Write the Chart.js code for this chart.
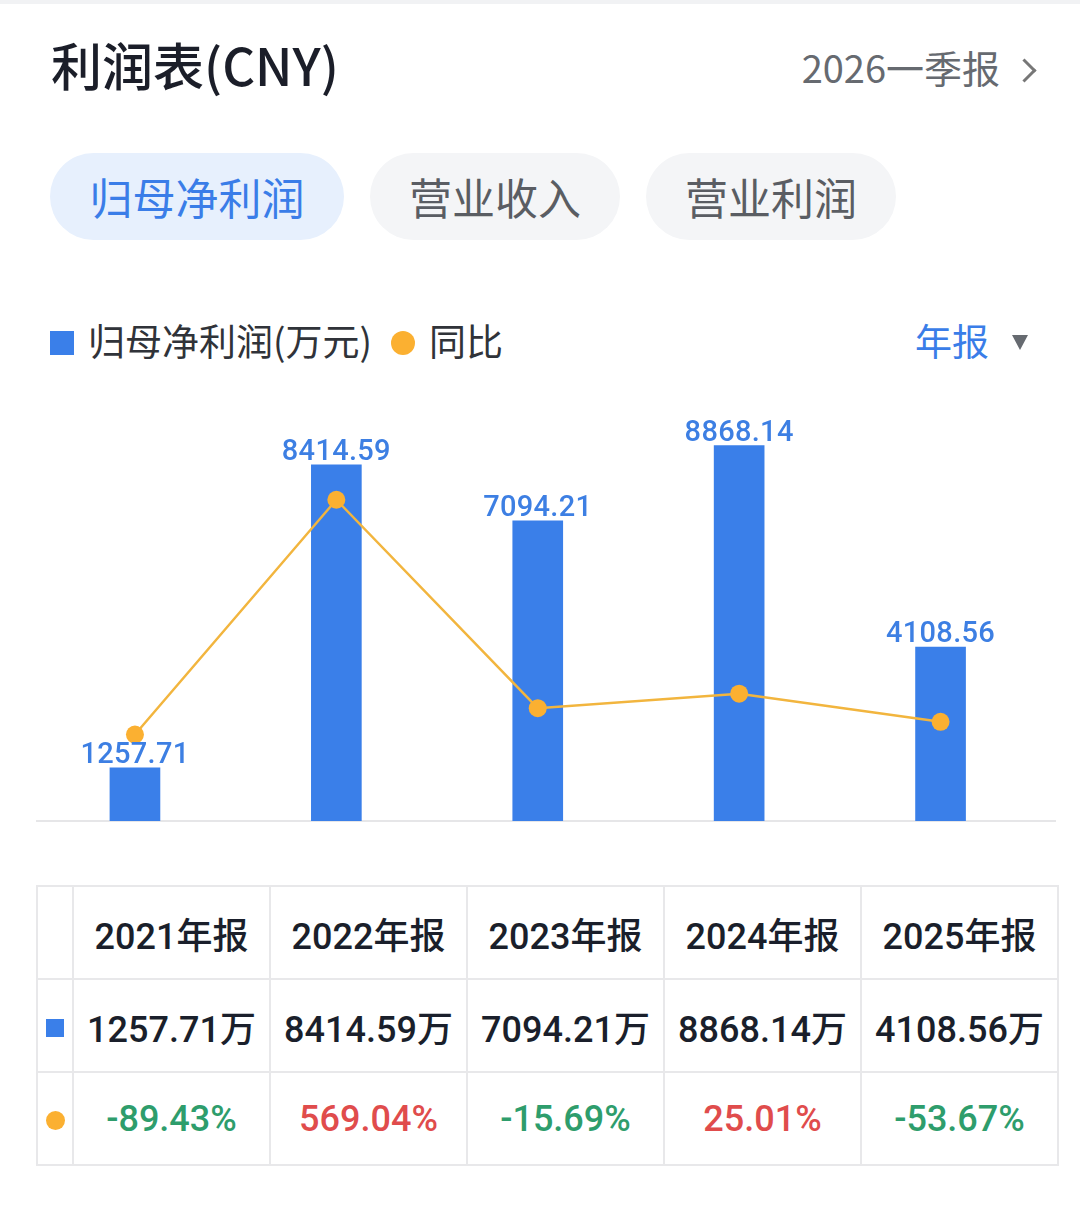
<!DOCTYPE html>
<html>
<head>
<meta charset="utf-8">
<script src="https://cdn.jsdelivr.net/npm/chart.js@4.4.1/dist/chart.umd.min.js"></script>
<style>
  html, body { margin: 0; padding: 0; background: #ffffff; }
  body { width: 1080px; height: 1208px; position: relative; overflow: hidden;
         font-family: "Roboto", "Noto Sans CJK SC", sans-serif; }
  .topband { position: absolute; left: 0; top: 0; width: 1080px; height: 4px; background: #f1f2f4; }
  .abs { position: absolute; white-space: nowrap; }
  .title { left: 51px; top: 34px; height: 60px; line-height: 60px; font-size: 51px; font-weight: 500; color: #1b1e29;
           font-family: "Noto Sans CJK SC", sans-serif; }
  .period { right: 80px; top: 41px; height: 52px; line-height: 52px; font-size: 38px; color: #666a70;
            font-family: "Noto Sans CJK SC", sans-serif; }
  .chev { left: 1016px; top: 62px; width: 14px; height: 14px; border-top: 3px solid #777; border-right: 3px solid #777;
          transform: rotate(45deg); }
  .tab { top: 153px; height: 87px; border-radius: 44px; display: flex; align-items: center; justify-content: center;
         font-size: 43px; font-family: "Noto Sans CJK SC", sans-serif; padding-bottom: 2px; box-sizing: border-box; }
  .tab.on { background: #e7f0fd; color: #3a7de8; }
  .tab.off { background: #f4f5f7; color: #5a5d63; }
  .legsq { left: 50px; top: 331px; width: 24px; height: 24px; background: #3a7fe9; }
  .legtxt { top: 315px; height: 50px; line-height: 50px; font-size: 37px; color: #303339; font-family: "Noto Sans CJK SC", sans-serif; }
  .legdot { left: 391px; top: 331px; width: 24px; height: 24px; border-radius: 50%; background: #fbb031; }
  .nb { left: 915px; top: 315px; height: 50px; line-height: 50px; font-size: 37px; color: #3a7de8; font-family: "Noto Sans CJK SC", sans-serif; }
  .tri { left: 1012px; top: 335px; width: 0; height: 0; border-left: 8px solid transparent; border-right: 8px solid transparent;
         border-top: 15px solid #666a70; }
  #chartBox { position: absolute; left: 0; top: 380px; width: 1080px; height: 450px; }
  table { position: absolute; left: 36px; top: 885px; border-collapse: collapse; }
  td { border: 2px solid #e8e8ea; text-align: center; padding: 0; height: 91px; font-size: 36px; color: #1a1f2b; font-weight: 500; }
  td.mk { width: 34px; }
  td.c { width: 195px; }
  .msq { display: inline-block; width: 18px; height: 18px; background: #3a7fe9; vertical-align: middle; }
  .mdot { display: inline-block; width: 19px; height: 19px; border-radius: 50%; background: #fbb031; vertical-align: middle; }
  .up { color: #e04c4c; }
  .down { color: #2e9d6c; }
</style>
</head>
<body>
<div class="topband"></div>
<div class="abs title">利润表(CNY)</div>
<div class="abs period">2026一季报</div>
<div class="abs chev"></div>

<div class="abs tab on" style="left:50px;width:294px;">归母净利润</div>
<div class="abs tab off" style="left:370px;width:250px;">营业收入</div>
<div class="abs tab off" style="left:646px;width:250px;">营业利润</div>

<div class="abs legsq"></div>
<div class="abs legtxt" style="left:88px;">归母净利润(万元)</div>
<div class="abs legdot"></div>
<div class="abs legtxt" style="left:429px;">同比</div>
<div class="abs nb">年报</div>
<div class="abs tri"></div>

<div id="chartBox"><canvas id="c" width="1080" height="450" style="width:1080px;height:450px;"></canvas></div>
<table id="tbl"></table>

<script>
// ---- data ----
const categories = ["2021年报", "2022年报", "2023年报", "2024年报", "2025年报"];
const netProfit = [1257.71, 8414.59, 7094.21, 8868.14, 4108.56];   // 万元
const yoy = [-89.43, 569.04, -15.69, 25.01, -53.67];                 // %
const profitAxisRange = [0, 10000];
const yoyAxisRange = [-332, 855];

// ---- table built from data ----
(function buildTable() {
  const t = document.getElementById('tbl');
  let h = '<tr><td class="mk"></td>';
  categories.forEach(c => { h += '<td class="c">' + c + '</td>'; });
  h += '</tr><tr><td class="mk"><span class="msq"></span></td>';
  netProfit.forEach(v => { h += '<td class="c">' + v.toFixed(2) + '万</td>'; });
  h += '</tr><tr><td class="mk"><span class="mdot"></span></td>';
  yoy.forEach(v => { h += '<td class="c ' + (v >= 0 ? 'up' : 'down') + '">' + v.toFixed(2) + '%</td>'; });
  h += '</tr>';
  t.innerHTML = h;
})();

// ---- plugins ----
const baseLine = {
  id: 'baseLine',
  beforeDatasetsDraw(chart) {
    const ctx = chart.ctx;
    const y = chart.scales.y.getPixelForValue(0);
    ctx.save();
    ctx.strokeStyle = '#e6e6e8';
    ctx.lineWidth = 2;
    ctx.beginPath();
    ctx.moveTo(36, y);
    ctx.lineTo(1056, y);
    ctx.stroke();
    ctx.restore();
  }
};
const barLabels = {
  id: 'barLabels',
  afterDatasetsDraw(chart) {
    const ctx = chart.ctx;
    const meta = chart.getDatasetMeta(0);
    ctx.save();
    ctx.font = '500 29px Roboto';
    ctx.fillStyle = '#3d7fe3';
    ctx.textAlign = 'center';
    ctx.textBaseline = 'alphabetic';
    try { ctx.letterSpacing = '0.3px'; } catch (e) {}
    meta.data.forEach((el, i) => {
      ctx.fillText(netProfit[i].toFixed(2), el.x, el.y - 5);
    });
    ctx.restore();
  }
};

new Chart(document.getElementById('c'), {
  type: 'bar',
  data: {
    labels: categories,
    datasets: [
      {
        type: 'bar',
        label: '归母净利润(万元)',
        data: netProfit,
        yAxisID: 'y',
        backgroundColor: '#3a7fe9',
        barThickness: 50,
        order: 1
      },
      {
        type: 'line',
        label: '同比',
        data: yoy,
        yAxisID: 'y2',
        borderColor: '#f2b53e',
        borderWidth: 2.5,
        pointRadius: 9,
        pointHoverRadius: 9,
        pointBackgroundColor: '#fbb031',
        pointBorderColor: '#fbb031',
        pointBorderWidth: 0,
        tension: 0,
        order: 0
      }
    ]
  },
  options: {
    responsive: false,
    animation: false,
    devicePixelRatio: 1,
    layout: { padding: { left: 34.25, right: 38.75, top: 17.8, bottom: 8.5 } },
    plugins: { legend: { display: false }, tooltip: { enabled: false } },
    scales: {
      x: { display: false, offset: true, grid: { display: false } },
      y: { display: false, min: profitAxisRange[0], max: profitAxisRange[1] },
      y2: { display: false, min: yoyAxisRange[0], max: yoyAxisRange[1], position: 'right' }
    }
  },
  plugins: [baseLine, barLabels]
});
</script>
</body>
</html>
